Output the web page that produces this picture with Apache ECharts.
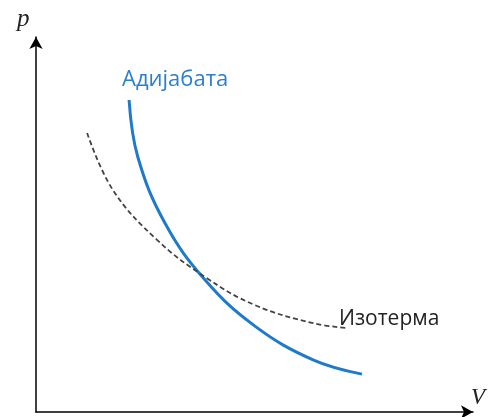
<!DOCTYPE html>
<html>
<head>
<meta charset="utf-8">
<script src="https://cdn.jsdelivr.net/npm/echarts@6/dist/echarts.min.js"></script>
<style>
  html, body { margin: 0; padding: 0; background: #fff; }
  #chart { width: 490px; height: 417px; }
</style>
</head>
<body>
<div id="chart"></div>
<script>
// adiabat (solid blue) and isotherm (dashed) as [V, p] pairs
const adiabat = [
  [2.13, 8.32], [2.33, 6.80], [2.95, 5.04], [3.87, 3.52],
  [5.01, 2.29], [6.34, 1.39], [7.46, 1.01]
];
const isotherm = [
  [1.17, 7.44], [1.76, 5.92], [2.77, 4.59], [3.87, 3.60],
  [5.01, 2.85], [6.34, 2.37], [7.12, 2.24]
];
const labels = ["Адијабата", "Изотерма"];
const axisNames = ["V", "p"];

const chart = echarts.init(document.getElementById("chart"));

const axisCommon = {
  type: "value",
  min: 0,
  max: 10,
  splitLine: { show: false },
  axisTick: { show: false },
  axisLabel: { show: false },
  axisLine: {
    show: true,
    onZero: false,
    symbol: ["none", "arrow"],
    symbolSize: [10, 12],
    lineStyle: { color: "#000", width: 1.5 },
  },
};

const options = {
  animation: false,
  grid: { left: 36, right: 17, top: 37, bottom: 5, outerBoundsMode: "none" },
  xAxis: { ...axisCommon },
  yAxis: { ...axisCommon },
  series: [
    {
      name: labels[0],
      type: "line",
      smooth: 0.4,
      showSymbol: false,
      data: adiabat,
      lineStyle: { color: "#1f7ac9", width: 3 },
    },
    {
      name: labels[1],
      type: "line",
      smooth: 0.4,
      showSymbol: false,
      data: isotherm,
      lineStyle: { color: "#444", width: 1.8, type: [5, 3] },
    },
  ],
  graphic: [
    {
      type: "text",
      x: 122,
      y: 69,
      style: {
        text: labels[0],
        fill: "#2a7fd0",
        font: "22px 'Open Sans', sans-serif",
      },
    },
    {
      type: "text",
      x: 339,
      y: 309,
      style: {
        text: labels[1],
        fill: "#222",
        font: "21px 'Open Sans', sans-serif",
      },
    },
    {
      type: "text",
      x: 471,
      y: 386,
      style: {
        text: axisNames[0],
        fill: "#222",
        font: "italic 23px 'Liberation Serif', serif",
      },
    },
    {
      type: "text",
      x: 17,
      y: 7,
      style: {
        text: axisNames[1],
        fill: "#222",
        font: "italic 25px 'Liberation Serif', serif",
      },
    },
  ],
};

chart.setOption(options);
</script>
</body>
</html>
